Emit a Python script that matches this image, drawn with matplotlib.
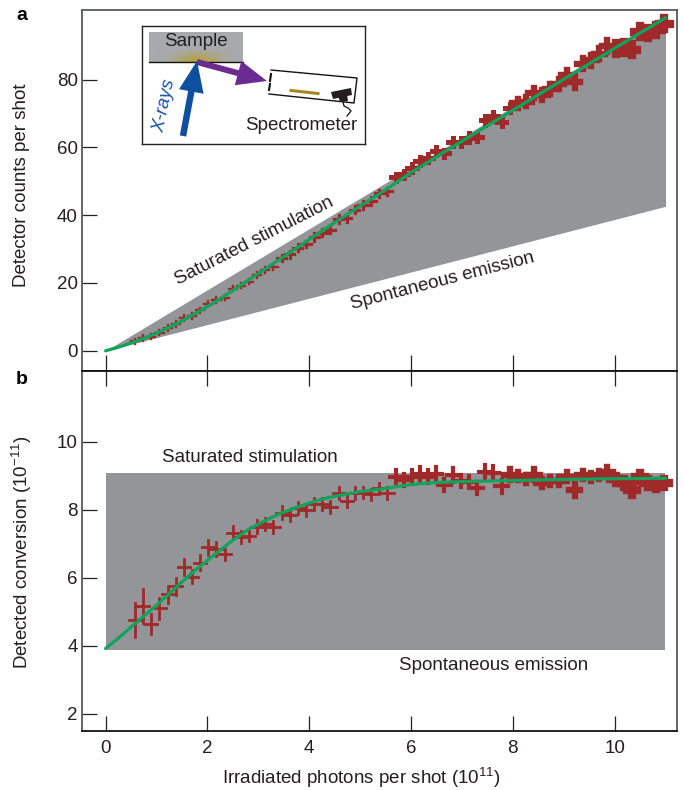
import numpy as np
import matplotlib
matplotlib.use("Agg")
import matplotlib.pyplot as plt
from matplotlib.patches import Polygon, Rectangle, FancyArrow

plt.rcParams['font.family'] = ['Liberation Sans', 'DejaVu Sans']
plt.rcParams['mathtext.fontset'] = 'custom'
plt.rcParams['mathtext.rm'] = 'Liberation Sans'
plt.rcParams['mathtext.it'] = 'Liberation Sans:italic'
plt.rcParams['mathtext.default'] = 'regular'

# ---- data ----
photons = [0.578, 0.738, 0.898, 1.058, 1.218, 1.378, 1.538, 1.698, 1.858, 2.018, 2.178,
           2.338, 2.498, 2.658, 2.818, 2.978, 3.138, 3.298, 3.458, 3.618, 3.778, 3.938,
           4.098, 4.258, 4.418, 4.578, 4.738, 4.898, 5.058, 5.218, 5.378, 5.538, 5.698,
           5.858, 6.018, 6.178, 6.338, 6.498, 6.658, 6.818, 6.978, 7.138, 7.298, 7.458,
           7.618, 7.778, 7.938, 8.098, 8.258, 8.418, 8.578, 8.738, 8.898, 9.058, 9.218,
           9.378, 9.538, 9.698, 9.858, 10.018, 10.178, 10.338, 10.498, 10.658, 10.818, 10.978]
conversion = [4.755, 5.168, 4.637, 5.099, 5.512, 5.748, 6.319, 6.033, 6.437, 6.899, 6.850,
              6.692, 7.331, 7.213, 7.243, 7.508, 7.577, 7.499, 7.921, 7.853, 8.049, 8.000,
              8.177, 8.177, 8.079, 8.492, 8.265, 8.492, 8.511, 8.462, 8.639, 8.49, 8.98,
              8.88, 8.96, 9.05, 8.98, 9.05, 8.74, 9.03, 8.84, 8.81, 8.64, 9.11,
              9.08, 8.69, 9.03, 9.01, 8.90, 9.03, 8.79, 8.84, 8.84, 8.98, 8.59,
              9.03, 8.98, 9.03, 9.13, 8.90, 8.79, 8.59, 8.96, 8.79, 8.74, 8.79]
counts = [2.75, 3.81, 4.16, 5.39, 6.71, 7.92, 9.72, 10.24, 11.96, 13.92, 14.92,
          15.65, 18.31, 19.17, 20.41, 22.36, 23.78, 24.73, 27.39, 28.41, 30.41, 31.50,
          33.51, 34.82, 35.69, 38.88, 39.16, 41.59, 43.05, 44.16, 46.46, 47.02, 51.17,
          52.02, 53.92, 55.91, 56.92, 58.81, 58.19, 61.57, 61.69, 62.89, 63.05, 67.94,
          69.17, 67.59, 71.68, 72.96, 73.50, 76.01, 75.40, 77.24, 78.66, 81.34, 79.18,
          84.68, 85.65, 87.57, 90.00, 89.16, 89.46, 88.80, 94.06, 93.68, 94.55, 96.50]
conversion_err = [0.49, 0.49, 0.30, 0.30, 0.24, 0.25, 0.24, 0.20, 0.22, 0.22, 0.20,
                  0.17, 0.20, 0.18, 0.16, 0.20, 0.18, 0.18, 0.18, 0.18, 0.18, 0.18,
                  0.18, 0.18, 0.18, 0.18, 0.18, 0.17, 0.16, 0.16, 0.16, 0.18, 0.20,
                  0.18, 0.20, 0.20, 0.18, 0.20, 0.18, 0.20, 0.18, 0.18, 0.18, 0.20,
                  0.20, 0.18, 0.16, 0.12, 0.12, 0.16, 0.12, 0.12, 0.12, 0.14, 0.18,
                  0.12, 0.12, 0.12, 0.14, 0.10, 0.12, 0.14, 0.12, 0.12, 0.12, 0.12]
counts_err = [0.8, 0.8, 0.8, 0.8, 0.8, 0.8, 0.8, 0.8, 0.8, 0.8, 0.8,
              0.8, 0.8, 0.8, 0.8, 0.8, 0.8, 0.8, 1.0, 1.0, 1.0, 1.0,
              1.1, 1.1, 1.1, 1.1, 1.1, 1.1, 1.1, 1.1, 1.1, 1.1, 1.1,
              1.1, 1.1, 1.2, 1.1, 1.2, 1.1, 1.2, 1.2, 1.2, 1.2, 1.3,
              1.3, 1.2, 1.2, 1.4, 1.4, 1.6, 1.4, 1.5, 1.5, 1.6, 1.8,
              1.6, 1.6, 1.6, 1.8, 1.5, 1.6, 1.6, 1.6, 1.5, 1.5, 1.5]
photons_err_b = [0.12, 0.12, 0.12, 0.12, 0.12, 0.12, 0.12, 0.12, 0.12, 0.12, 0.12,
                 0.12, 0.12, 0.12, 0.12, 0.12, 0.12, 0.12, 0.12, 0.12, 0.12, 0.12,
                 0.12, 0.12, 0.12, 0.12, 0.12, 0.12, 0.12, 0.12, 0.12, 0.12, 0.12,
                 0.12, 0.12, 0.12, 0.12, 0.12, 0.12, 0.12, 0.12, 0.12, 0.12, 0.12,
                 0.12, 0.12, 0.12, 0.12, 0.12, 0.12, 0.12, 0.12, 0.11, 0.11, 0.11,
                 0.11, 0.11, 0.11, 0.11, 0.10, 0.10, 0.10, 0.10, 0.10, 0.10, 0.10]
photons_err_a = [0.08] * 18 + [0.09] * 22 + [0.09] * 7 + [0.11] * 13 + [0.11] * 6
mark_width_a = [1.7] * 18 + [2.3] * 14 + [3.6] * 15 + [4.6] * 12 + [6.0] * 7
mark_width_b = [2.0] * 32 + [3.0] * 14 + [4.6] * 13 + [6.0] * 7

fit_x = [0, 0.25, 0.5, 0.735, 1.0, 1.25, 1.47, 1.8, 2.13, 2.45, 2.79, 3.1, 3.44, 3.8,
         4.1, 4.4, 4.75, 5.0, 5.41, 6, 6.53, 7.2, 7.84, 8.5, 9.15, 10, 11]
fit_conversion = [3.92, 4.22, 4.55, 4.85, 5.19, 5.53, 5.84, 6.27, 6.67, 7.05, 7.41, 7.66,
                  7.9, 8.1, 8.25, 8.37, 8.47, 8.54, 8.61, 8.75, 8.81, 8.84, 8.86, 8.88,
                  8.90, 8.92, 8.93]
fit_counts = [0, 1.06, 2.28, 3.56, 5.19, 6.91, 8.58, 11.29, 14.21, 17.27, 20.67, 23.75,
              27.18, 30.78, 33.83, 36.83, 40.23, 42.7, 46.58, 52.5, 57.5, 63.65, 69.46,
              75.48, 81.44, 89.2, 98.2]

band_x = [0, 11]
band_saturated = [9.08, 9.08]
band_spontaneous = [3.87, 3.87]
band_saturated_counts = [0, 99.0]
band_spontaneous_counts = [0, 42.6]

x_ticks = [0, 2, 4, 6, 8, 10]
y_ticks_a = [0, 20, 40, 60, 80]
y_ticks_b = [2, 4, 6, 8, 10]

# ---- layout ----
W, H = 684, 790
GRAY, RED, GREEN = '#939598', '#a02a2a', '#0fa35c'
TXT = '#231f20'
FS = 13.5
fig = plt.figure(figsize=(W / 100, H / 100), dpi=100)


def add_px_axes(l, t, r, b, **kw):
    return fig.add_axes([l / W, 1 - b / H, (r - l) / W, (b - t) / H], **kw)


ax_a = add_px_axes(82, 10, 677, 371)
ax_b = add_px_axes(82, 371, 677, 731.3)
ax_a.set_xlim(-0.464, 11.226)
ax_b.set_xlim(-0.464, 11.226)
ax_a.set_ylim(-5.96, 100.5)
ax_b.set_ylim(1.48, 12.09)


def draw(ax, y, yerr, xerr, widths, fit, upper, lower):
    ax.fill_between(band_x, lower, upper, color=GRAY, lw=0, zorder=1)
    x = np.array(photons)
    y = np.array(y)
    yerr = np.array(yerr)
    xerr = np.array(xerr)
    ax.vlines(x, y - yerr, y + yerr, colors=RED, linewidths=widths,
              capstyle='projecting', zorder=2)
    ax.hlines(y, x - xerr, x + xerr, colors=RED, linewidths=widths,
              capstyle='projecting', zorder=2)
    ax.plot(fit_x, fit, color=GREEN, lw=2.3, solid_joinstyle='round',
            solid_capstyle='round', zorder=3)


draw(ax_a, counts, counts_err, photons_err_a, mark_width_a, fit_counts,
     band_saturated_counts, band_spontaneous_counts)
draw(ax_b, conversion, conversion_err, photons_err_b, mark_width_b, fit_conversion,
     band_saturated, band_spontaneous)

for ax in (ax_a, ax_b):
    for s in ax.spines.values():
        s.set_color('#58595b')
        s.set_linewidth(1.3)
ax_a.spines['bottom'].set_color('#111111')
ax_b.spines['top'].set_color('#111111')
ax_b.spines['bottom'].set_color('#111111')

ax_a.set_yticks(y_ticks_a)
ax_b.set_yticks(y_ticks_b)
ax_a.set_xticks(x_ticks)
ax_b.set_xticks(x_ticks)
ax_a.tick_params(axis='x', direction='in', length=11.5, width=0.9, color='#222222', labelbottom=False)
ax_a.tick_params(axis='y', direction='in', length=11, width=0.9, color='#222222',
                 labelsize=FS, labelcolor=TXT, pad=3)
ax_b.tick_params(axis='x', direction='in', length=11, width=0.9, color='#222222',
                 top=True, labelsize=FS, labelcolor=TXT, pad=6)
ax_b.tick_params(axis='y', direction='in', length=11, width=0.9, color='#222222',
                 labelsize=FS, labelcolor=TXT, pad=3)

fig.text(22 / W, 1 - 185 / H, 'Detector counts per shot', rotation=90, ha='center', va='center',
         fontsize=FS, color=TXT)
fig.text(22 / W, 1 - 552 / H, 'Detected conversion (10$^{-11}$)', rotation=90, ha='center',
         va='center', fontsize=FS, color=TXT)
fig.text(361 / W, 1 - 778 / H, 'Irradiated photons per shot (10$^{11}$)', ha='center',
         va='center', fontsize=FS, color=TXT)
fig.text(22 / W, 1 - 15 / H, 'a', ha='center', va='center', fontsize=14, fontweight='bold', color='black')
fig.text(22 / W, 1 - 380 / H, 'b', ha='center', va='center', fontsize=14, fontweight='bold', color='black')

fig.text(254 / W, 1 - 241 / H, 'Saturated stimulation', rotation=27, ha='center', va='center',
         rotation_mode='anchor', fontsize=FS, color=TXT)
fig.text(442 / W, 1 - 281 / H, 'Spontaneous emission', rotation=14.5, ha='center', va='center',
         rotation_mode='anchor', fontsize=FS, color=TXT)
fig.text(250 / W, 1 - 458 / H, 'Saturated stimulation', ha='center', va='center', fontsize=FS, color=TXT)
fig.text(494 / W, 1 - 666 / H, 'Spontaneous emission', ha='center', va='center', fontsize=FS, color=TXT)

# ---- inset schematic, drawn in picture pixels ----
ins = add_px_axes(142, 26, 365, 144, zorder=5)
ins.set_xticks([])
ins.set_yticks([])
for s in ins.spines.values():
    s.set_color('#222222')
    s.set_linewidth(1.0)
ins.add_patch(Rectangle((149, 32), 94, 30, color='#a7a9ac', lw=0, zorder=1))
grad = np.zeros((12, 90, 4))
gold = np.array(matplotlib.colors.to_rgb('#b8a030'))
grad[..., :3] = gold
xx = np.exp(-((np.arange(90) - 45) / 20.0) ** 2)
yy = np.linspace(0.15, 1, 12)[:, None]
grad[..., 3] = xx * yy
ins.imshow(grad, extent=(152, 242, 62, 50), aspect='auto', zorder=2, interpolation='bilinear')
ins.set_xlim(142, 365)
ins.set_ylim(144, 26)
ins.plot([149, 243], [62.3, 62.3], color='#111111', lw=1.0, zorder=3)
ins.text(196, 41.5, 'Sample', ha='center', va='center', fontsize=FS, color=TXT, zorder=4)
ins.text(301, 126, 'Spectrometer', ha='center', va='center', fontsize=FS, color=TXT, zorder=4)
ins.text(165, 106, 'X-rays', rotation=78, ha='center', va='center', fontsize=FS, color='#1a55a5',
         style='italic', zorder=4)
ins.add_patch(FancyArrow(197, 62, 70, 19, width=6, head_width=25, head_length=30,
                         length_includes_head=True, color='#6b2c91', lw=0, zorder=5))
ins.add_patch(FancyArrow(183, 136, 14, -75, width=6.5, head_width=25, head_length=31,
                         length_includes_head=True, color='#0f4fa0', lw=0, zorder=6))
ins.plot([271, 357, 354, 269], [70, 78, 103, 94], color='#111111', lw=1.0, zorder=3)
ins.plot([271, 270], [74, 81], color='#111111', lw=1.5, zorder=3)
ins.plot([270, 269], [84, 90], color='#111111', lw=1.5, zorder=3)
ins.plot([291, 318], [90.5, 93.5], color='#a8861c', lw=2.2, zorder=3)
ins.add_patch(Polygon([(331, 92), (351, 88), (352, 95), (333, 99)], color='#231f20', lw=0, zorder=3))
ins.add_patch(Polygon([(338, 96), (347, 94), (348, 101), (340, 102)], color='#231f20', lw=0, zorder=3))
ins.plot([343, 344, 348, 351, 347], [102, 106, 108, 111, 116], color='#111111', lw=0.9, zorder=3)

fig.savefig('out.png', dpi=100)
